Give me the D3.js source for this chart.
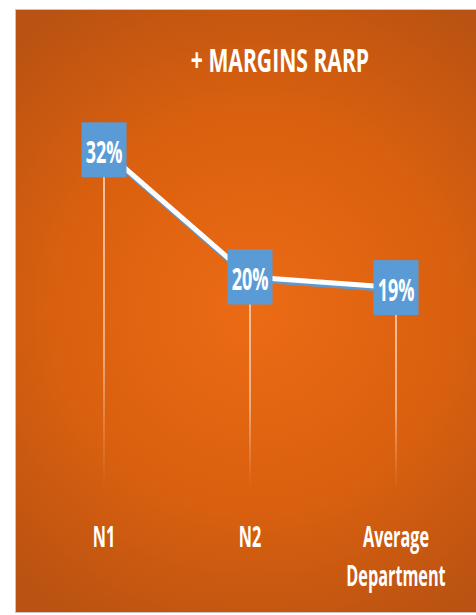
<!DOCTYPE html>
<html>
<head>
<meta charset="utf-8">
<script src="https://cdn.jsdelivr.net/npm/d3@7"></script>
<style>
  html, body { margin: 0; padding: 0; background: #ffffff; }
  svg { display: block; }
  text { font-family: "Open Sans", "DejaVu Sans", sans-serif; font-weight: 700; fill: #ffffff; }
</style>
</head>
<body>
<svg id="chart" width="476" height="615"></svg>
<script>
// Chart data
const title = "+ MARGINS RARP";
const categories = ["N1", "N2", "Average Department"];
const categoryLines = [["N1"], ["N2"], ["Average", "Department"]];
const margins = [32, 20, 19];
const valueLabels = ["32%", "20%", "19%"];

const W = 476, H = 615;
const svg = d3.select("#chart");
const defs = svg.append("defs");

// Place a horizontally condensed text centred at (cx, baseline)
function condensedText(parent, cx, cy, str, size, factor) {
  return parent.append("text")
    .attr("transform", `translate(${cx},${cy}) scale(${factor},1)`)
    .attr("text-anchor", "middle")
    .attr("font-size", size)
    .text(str);
}

// Panel background: radial orange gradient
const bg = defs.append("radialGradient")
  .attr("id", "bgGrad")
  .attr("gradientUnits", "userSpaceOnUse")
  .attr("cx", 255).attr("cy", 310).attr("r", 360);
bg.append("stop").attr("offset", "0").attr("stop-color", "#ec6b15");
bg.append("stop").attr("offset", "0.55").attr("stop-color", "#d9600f");
bg.append("stop").attr("offset", "1").attr("stop-color", "#b95212");

svg.append("rect")
  .attr("x", 15.5).attr("y", 9.5)
  .attr("width", 480).attr("height", 603)
  .attr("fill", "url(#bgGrad)")
  .attr("stroke", "#c9c4c0").attr("stroke-width", 1);

// Scales
const x = d3.scalePoint().domain(categories).range([31, 469]).padding(0.5);
const y = d3.scaleLinear().domain([0, 40]).range([489, 65]);

// Title
condensedText(svg, 280, 72, title, 32, 0.66);

// Drop lines from each point down to zero, fading out
const pts = categories.map((c, i) => ({ c, v: margins[i], label: valueLabels[i], lines: categoryLines[i] }));

pts.forEach((d, i) => {
  const g = defs.append("linearGradient")
    .attr("id", "drop" + i)
    .attr("gradientUnits", "userSpaceOnUse")
    .attr("x1", 0).attr("x2", 0)
    .attr("y1", y(d.v)).attr("y2", y(0));
  g.append("stop").attr("offset", "0").attr("stop-color", "#fde3d0").attr("stop-opacity", 0.95);
  g.append("stop").attr("offset", "0.6").attr("stop-color", "#fbd5bb").attr("stop-opacity", 0.8);
  g.append("stop").attr("offset", "1").attr("stop-color", "#f6b58a").attr("stop-opacity", 0);
});

svg.append("g").selectAll("line")
  .data(pts)
  .join("line")
  .attr("x1", d => x(d.c)).attr("x2", d => x(d.c))
  .attr("y1", d => y(d.v)).attr("y2", y(0))
  .attr("stroke", (d, i) => `url(#drop${i})`)
  .attr("stroke-width", 1.6);

// Series line: blue shadow under a white stroke
const line = d3.line().x(d => x(d.c)).y(d => y(d.v));
svg.append("path")
  .datum(pts)
  .attr("d", line)
  .attr("transform", "translate(1,2.5)")
  .attr("fill", "none")
  .attr("stroke", "#5b9bd5")
  .attr("stroke-width", 5);
svg.append("path")
  .datum(pts)
  .attr("d", line)
  .attr("fill", "none")
  .attr("stroke", "#ffffff")
  .attr("stroke-width", 5);

// Value boxes with labels
const BW = 45, BH = 55;
const boxLayer = svg.append("g");
boxLayer.selectAll("rect")
  .data(pts)
  .join("rect")
  .attr("x", d => x(d.c) - BW / 2).attr("y", d => y(d.v) - BH / 2)
  .attr("width", BW).attr("height", BH)
  .attr("fill", "#5b9bd5");
pts.forEach(d => condensedText(boxLayer, x(d.c), y(d.v) + 13, d.label, 31, 0.58));

// Category axis labels
const catLayer = svg.append("g");
pts.forEach(d => {
  d.lines.forEach((t, k) => condensedText(catLayer, x(d.c), 547 + k * 39, t, 28, 0.58));
});
</script>
</body>
</html>
